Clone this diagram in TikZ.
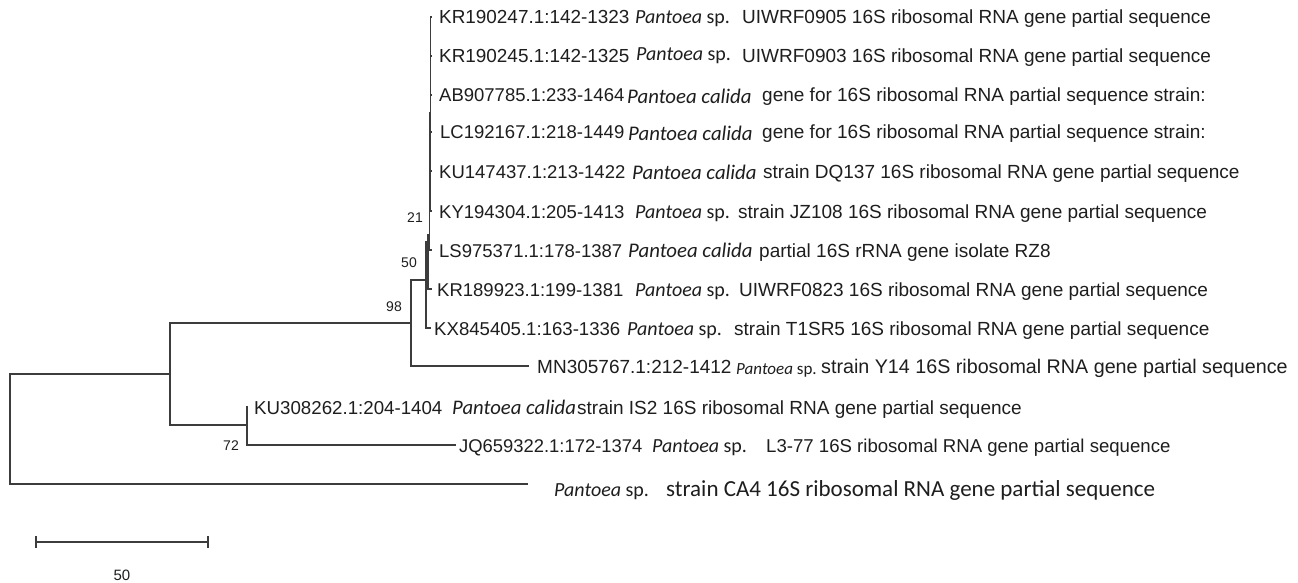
\documentclass[tikz,border=0pt]{standalone}
\usepackage{fontspec}
\setmainfont{Liberation Sans}
\newfontfamily\spfont{Carlito}
\definecolor{treeline}{HTML}{3C3C3C}
\definecolor{txt}{HTML}{1E1E1E}
\begin{document}
\begin{tikzpicture}[x=1pt,y=-1pt,
  br/.style={draw=treeline, line width=1.3pt, line cap=rect},
  acc/.style={anchor=base west, inner sep=0pt, text=txt, font=\fontsize{#1}{22}\selectfont},
  acc/.default=19,
  spn/.style={anchor=base west, inner sep=0pt, text=txt, font=\spfont\fontsize{#1}{22}\selectfont},
  spn/.default=20,
  dsc/.style={anchor=base west, inner sep=0pt, text=txt, font=\fontsize{#1}{22}\selectfont},
  dsc/.default=19,
  boot/.style={inner sep=0pt, text=txt, font=\fontsize{14}{16}\selectfont}]
\useasboundingbox (0,0) rectangle (1298,583);
\fill[white] (0,0) rectangle (1298,583);
% internal nodes
\coordinate (n0) at (10,429);
\coordinate (nA) at (170,374);
\coordinate (nC) at (247,425);
\coordinate (nB) at (411,323);
\coordinate (n50) at (426,280);
\coordinate (n21) at (428,242);
\coordinate (nX) at (429.4,235);
\coordinate (nY) at (430.2,113);
% tips
\coordinate (t1) at (431,17);
\coordinate (t2) at (431,56);
\coordinate (t3) at (431,95);
\coordinate (t4) at (431,132);
\coordinate (t5) at (431,171);
\coordinate (t6) at (431,211);
\coordinate (t7) at (431,250);
\coordinate (t8) at (431,289);
\coordinate (t9) at (430,328);
\coordinate (t10) at (528,366);
\coordinate (t11) at (247,407);
\coordinate (t12) at (455,445);
\coordinate (t13) at (527,484);
% branches
\draw[br] (n0) |- (nA);
\draw[br] (n0) |- (t13);
\draw[br] (nA) |- (nB);
\draw[br] (nA) |- (nC);
\draw[br] (nC) |- (t11);
\draw[br] (nC) |- (t12);
\draw[br] (nB) |- (n50);
\draw[br] (nB) |- (t10);
\draw[br] (n50) |- (n21);
\draw[br] (n50) |- (t9);
\draw[br] (n21) |- (nX);
\draw[br] (n21) |- (t8);
\draw[br] (nX) |- (nY);
\draw[br] (nX) |- (t7);
\foreach \t in {t1,t2,t3,t4,t5,t6} \draw[br] (nY) |- (\t);
% bootstrap values
\node[boot] (b21) at (415,218) {21};
\node[boot] (b50) at (409,263) {50};
\node[boot] (b98) at (394,307) {98};
\node[boot] (b72) at (231,446) {72};
% labels
\node[acc=18.9] (a1) at (439,24) {KR190247.1:142-1323};
\node[spn] (s1) at (635,24) {\textit{Pantoea} sp.};
\node[dsc] (d1) at (742,24) {UIWRF0905 16S ribosomal RNA gene partial sequence};
\node[acc=18.9] (a2) at (439,63) {KR190245.1:142-1325};
\node[spn] (s2) at (636,61) {\textit{Pantoea} sp.};
\node[dsc] (d2) at (742,63) {UIWRF0903 16S ribosomal RNA gene partial sequence};
\node[acc=18.5] (a3) at (439,102) {AB907785.1:233-1464};
\node[spn=20.8] (s3) at (627,104) {\textit{Pantoea calida}};
\node[dsc] (d3) at (762,102) {gene for 16S ribosomal RNA partial sequence strain:};
\node[acc=18.5] (a4) at (440,139) {LC192167.1:218-1449};
\node[spn=20.8] (s4) at (628,140) {\textit{Pantoea calida}};
\node[dsc] (d4) at (762,139) {gene for 16S ribosomal RNA partial sequence strain:};
\node[acc=18.5] (a5) at (439,178) {KU147437.1:213-1422};
\node[spn=20.8] (s5) at (632,179) {\textit{Pantoea calida}};
\node[dsc] (d5) at (763,178) {strain DQ137 16S ribosomal RNA gene partial sequence};
\node[acc=18.5] (a6) at (439,218) {KY194304.1:205-1413};
\node[spn] (s6) at (635,218) {\textit{Pantoea} sp.};
\node[dsc] (d6) at (738,218) {strain JZ108 16S ribosomal RNA gene partial sequence};
\node[acc=18.5] (a7) at (439,257) {LS975371.1:178-1387};
\node[spn=20.8] (s7) at (628,257) {\textit{Pantoea calida}};
\node[dsc] (d7) at (759,257) {partial 16S rRNA gene isolate RZ8};
\node[acc=18.5] (a8) at (437,296) {KR189923.1:199-1381};
\node[spn] (s8) at (635,296) {\textit{Pantoea} sp.};
\node[dsc] (d8) at (739,296) {UIWRF0823 16S ribosomal RNA gene partial sequence};
\node[acc=18.6] (a9) at (434,335) {KX845405.1:163-1336};
\node[spn] (s9) at (627,335) {\textit{Pantoea} sp.};
\node[dsc] (d9) at (734,335) {strain T1SR5 16S ribosomal RNA gene partial sequence};
\node[acc] (a10) at (537,373) {MN305767.1:212-1412};
\node[spn=17] (s10) at (736,374) {\textit{Pantoea} sp.};
\node[dsc=19.7] (d10) at (821,373) {strain Y14 16S ribosomal RNA gene partial sequence};
\node[acc=18.7] (a11) at (254,414) {KU308262.1:204-1404};
\node[spn=20.7] (s11) at (452,414) {\textit{Pantoea calida}};
\node[dsc] (d11) at (577,414) {strain IS2 16S ribosomal RNA gene partial sequence};
\node[acc=18.4] (a12) at (459,452) {JQ659322.1:172-1374};
\node[spn] (s12) at (652,452) {\textit{Pantoea} sp.};
\node[dsc=18.6] (d12) at (766,452) {L3-77 16S ribosomal RNA gene partial sequence};
\node[spn] (s13) at (554,496) {\textit{Pantoea} sp.};
\node[anchor=base west, inner sep=0pt, text=txt, font=\spfont\fontsize{23}{26}\selectfont] (d13) at (666,496) {strain CA4 16S ribosomal RNA gene partial sequence};
% scale bar
\coordinate (sb1) at (36,542);
\coordinate (sb2) at (208,542);
\draw[br] (sb1) -- (sb2);
\draw[br] ([yshift=-5pt]sb1) -- ([yshift=5pt]sb1);
\draw[br] ([yshift=-5pt]sb2) -- ([yshift=5pt]sb2);
\node[inner sep=0pt, text=txt, font=\fontsize{15}{17}\selectfont] (sbl) at (122,575) {50};
\end{tikzpicture}
\end{document}
